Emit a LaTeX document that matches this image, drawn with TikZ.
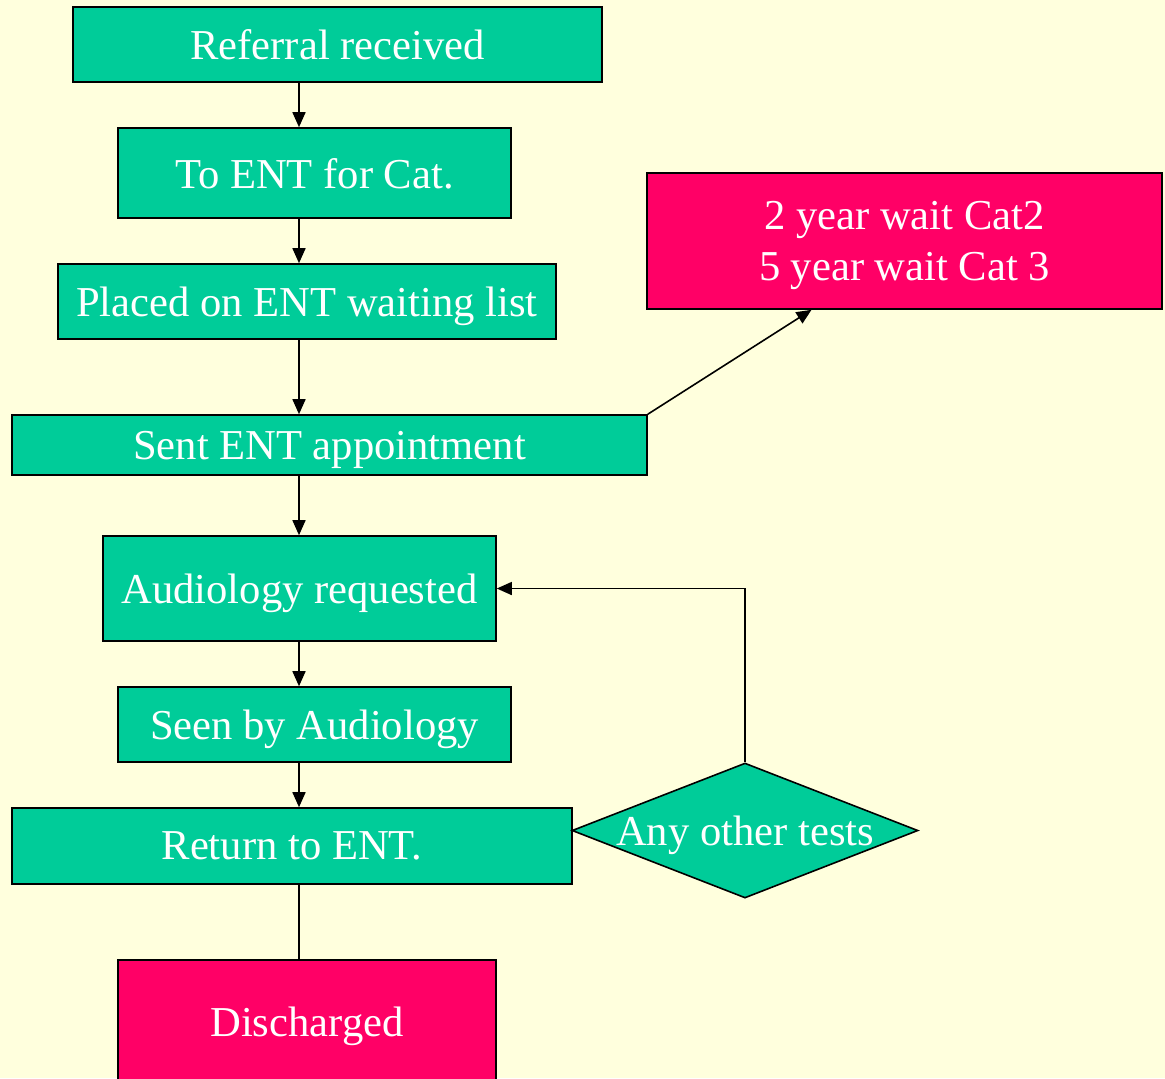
\documentclass[tikz,border=0pt]{standalone}
\usepackage{fontspec}
\setmainfont{Liberation Serif}
\usetikzlibrary{arrows.meta,shapes.geometric,positioning,calc}
\definecolor{entbg}{RGB}{255,255,221}
\definecolor{entgreen}{RGB}{0,204,153}
\definecolor{entpink}{RGB}{255,0,102}
\tikzstyle{arrow} = [line width=0.8pt,-{Triangle[length=7.5pt,width=6.5pt]}]
\tikzstyle{plainline} = [line width=0.8pt]
\tikzstyle{flowbox} = [rectangle, draw=black, line width=0.8pt, fill=entgreen, text=white, inner sep=0pt, text depth=0pt, align=center, font=\fontsize{21.3pt}{25.5pt}\selectfont]
\tikzstyle{alertbox} = [flowbox, fill=entpink]
\tikzstyle{decision} = [diamond, draw=black, line width=0.8pt, fill=entgreen, text=white, inner sep=0pt, text depth=0pt, aspect=2.56, font=\fontsize{21.3pt}{25.5pt}\selectfont]

\begin{document}
\begin{tikzpicture}[x=0.5pt, y=-0.5pt]
\useasboundingbox[fill=entbg] (0,0) rectangle (1165,1078);
\coordinate (spine) at (299,0);

% Main flow
\node[flowbox, minimum width=264.5pt, minimum height=37.5pt] (referral) at (337.5,44.5) {Referral received};
\node[flowbox, minimum width=196.5pt, minimum height=45pt] (toent) at (314.5,173) {To ENT for Cat.};
\node[flowbox, minimum width=249pt, minimum height=37.5pt] (placed) at (307,301.5) {Placed on ENT waiting list};
\node[flowbox, minimum width=317.5pt, minimum height=30pt] (sent) at (329.5,445) {Sent ENT appointment};
\node[flowbox, minimum width=196.5pt, minimum height=52.5pt] (audio) at (299.5,588.5) {Audiology requested};
\node[flowbox, minimum width=196.5pt, minimum height=37.5pt] (seen) at (314.5,724.5) {Seen by Audiology};
\node[flowbox, minimum width=280pt, minimum height=38pt] (return) at (292,846) {Return to ENT.};
\node[alertbox, minimum width=189pt, minimum height=62pt] (discharged) at (307,1022) {Discharged};

% Side branches
\node[alertbox, minimum width=257.5pt, minimum height=68pt] (wait) at (904.5,241) {2 year wait Cat2\\5 year wait Cat 3};
\node[decision, minimum width=173pt, minimum height=67.5pt] (tests) at (745,830.5) {\makebox[0pt]{Any other tests}};

% Connections
\draw[arrow] (referral.south -| spine) -- (toent.north -| spine);
\draw[arrow] (toent.south -| spine) -- (placed.north -| spine);
\draw[arrow] (placed.south -| spine) -- (sent.north -| spine);
\draw[arrow] (sent.south -| spine) -- (audio.north -| spine);
\draw[arrow] (audio.south -| spine) -- (seen.north -| spine);
\draw[arrow] (seen.south -| spine) -- (return.north -| spine);
\draw[plainline] (return.south -| spine) -- (discharged.north -| spine);
\draw[arrow] (sent.north east) -- ($(wait.south west)!0.32!(wait.south east)$);
\draw[arrow] (tests.north) |- (audio.east);
\end{tikzpicture}
\end{document}
